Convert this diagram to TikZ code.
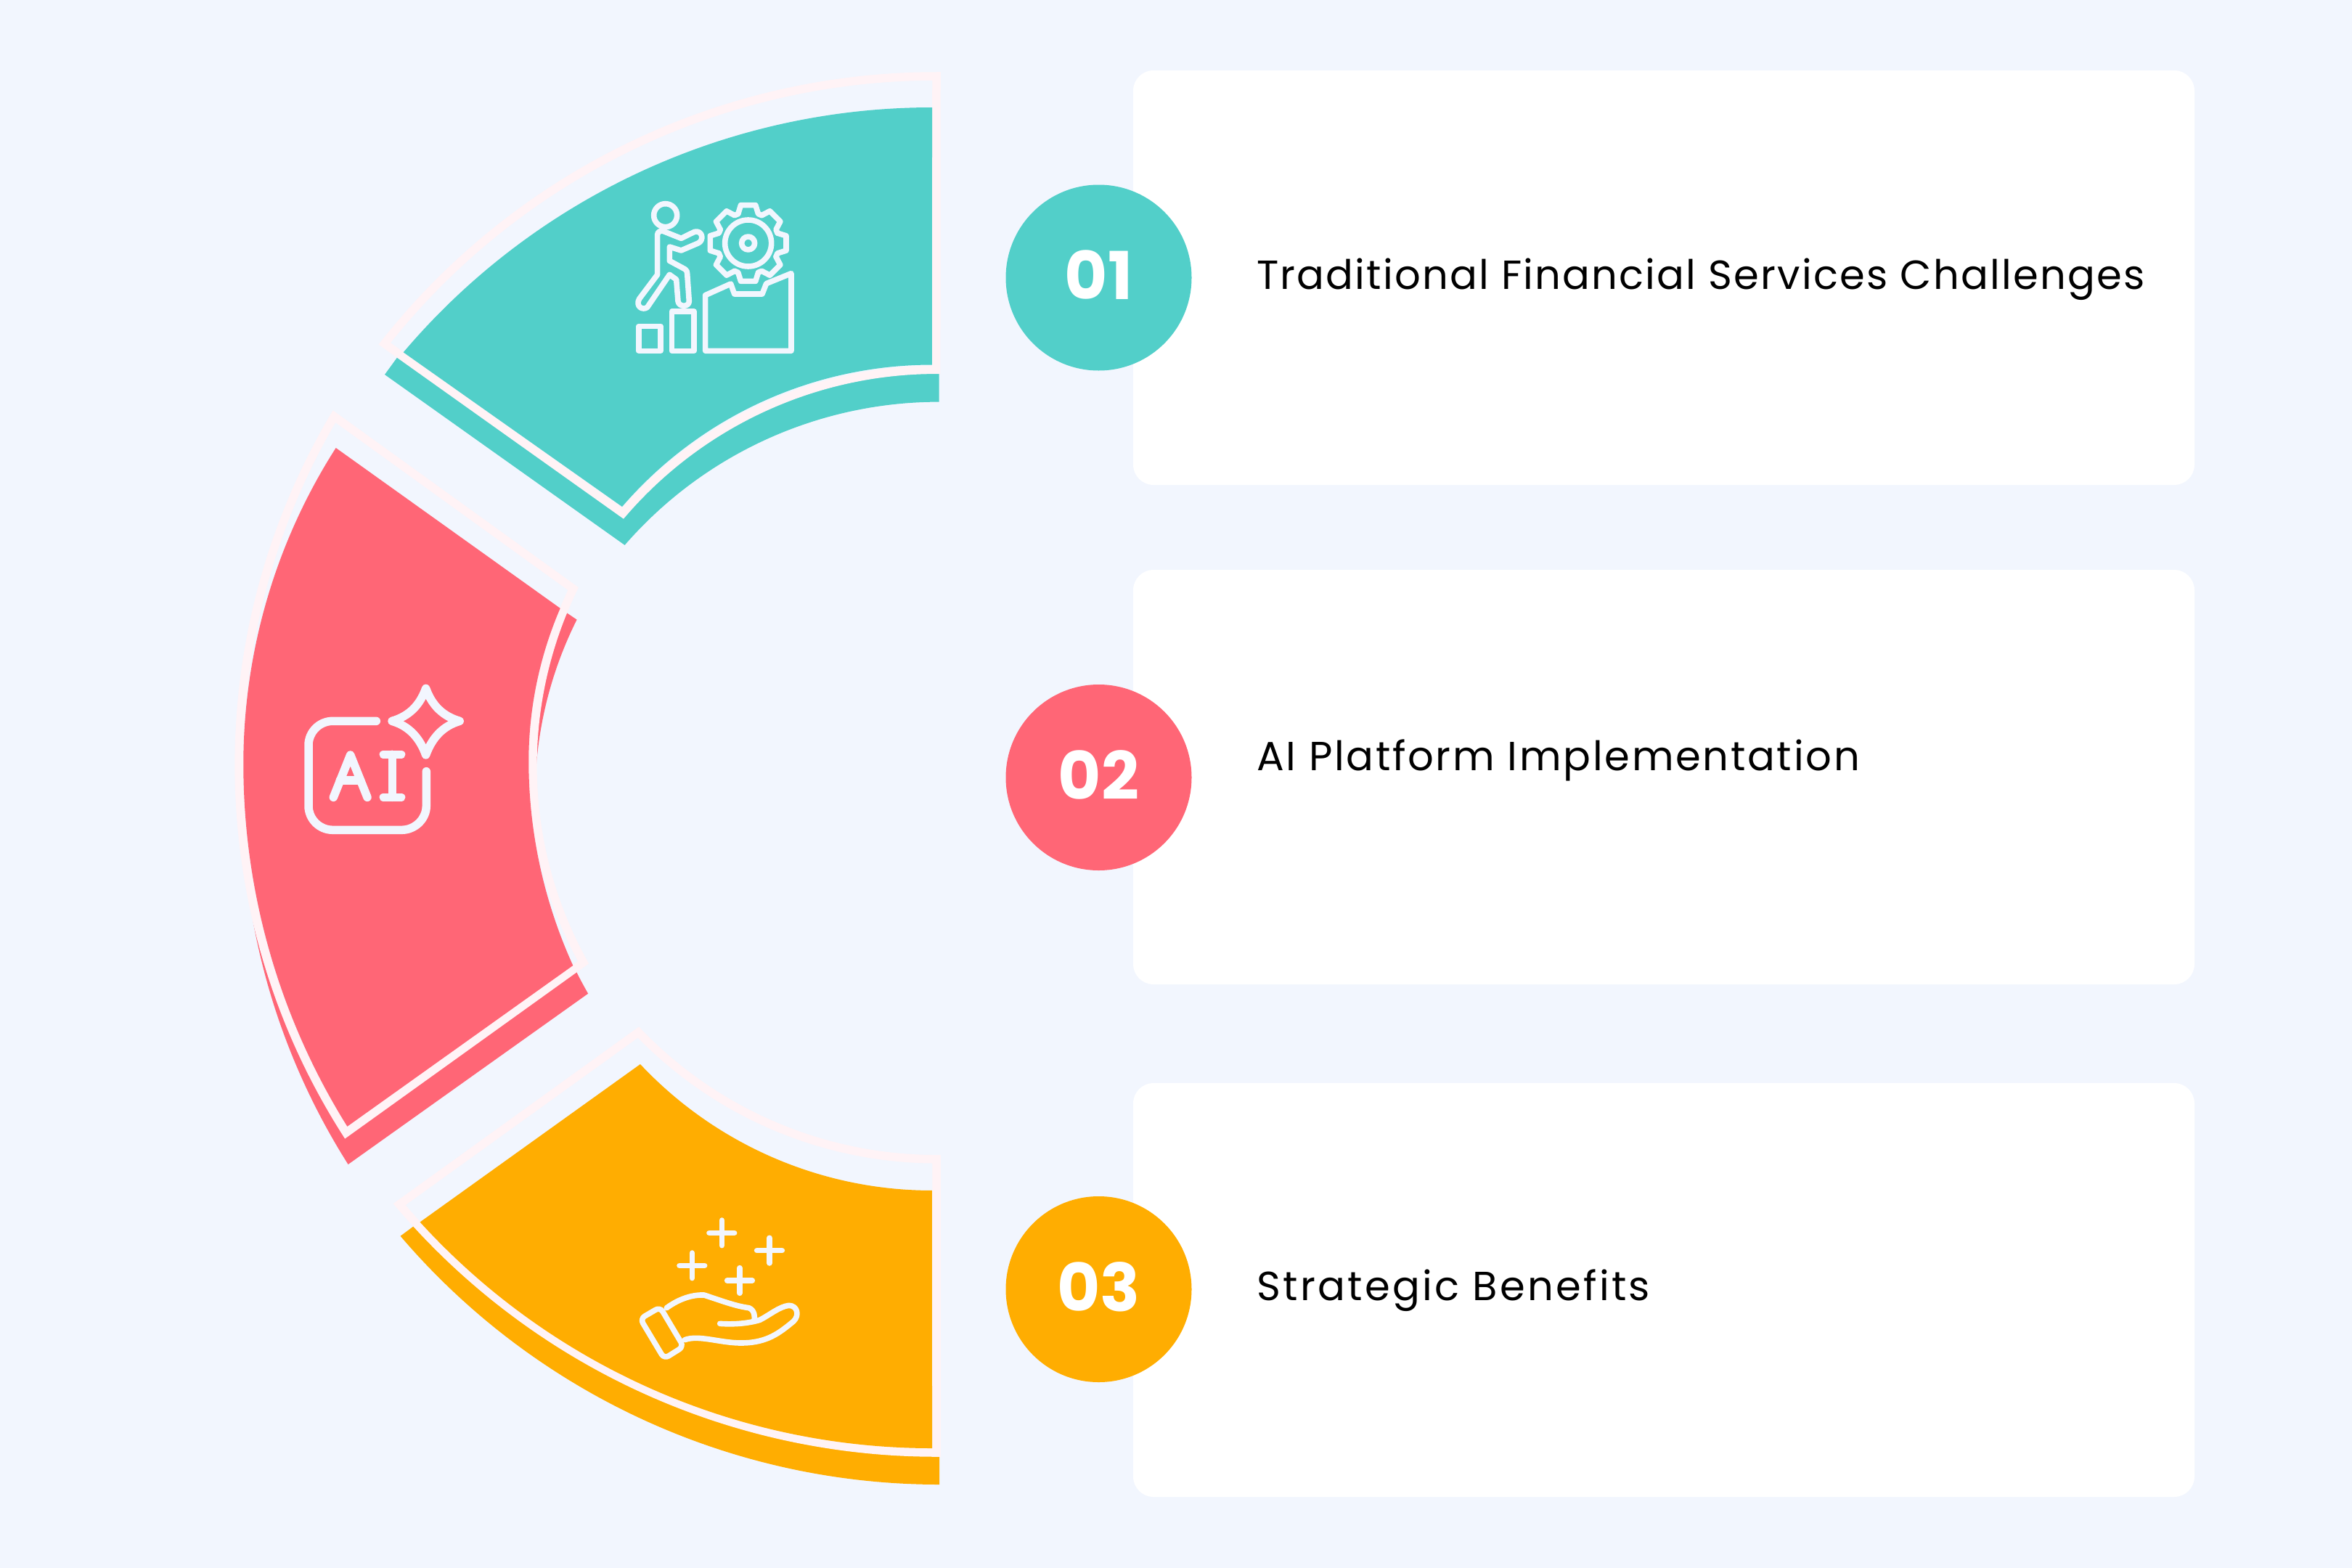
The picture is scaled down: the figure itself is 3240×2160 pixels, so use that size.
\documentclass[tikz,border=0pt]{standalone}
\usepackage{fontspec}
\setmainfont{Poppins}
\definecolor{bgc}{HTML}{F2F6FE}
\definecolor{pinkc}{HTML}{FFF3F6}
\definecolor{tealc}{HTML}{52CFC9}
\definecolor{redc}{HTML}{FF6676}
\definecolor{orac}{HTML}{FFAD01}
\tikzset{
  frame/.style={fill=bgc,draw=pinkc,line width=11.5pt,miter limit=10},
  card/.style={fill=white,draw=none,rounded corners=28pt},
  badge/.style={circle,minimum size=256pt,inner sep=0pt,text=white,font=\fontsize{91}{91}\selectfont\bfseries},
  label/.style={anchor=base west,inner sep=0pt,text=black,font=\fontsize{56}{60}\selectfont},
  ico/.style={draw=bgc,line width=7.6pt,line join=round,line cap=round},
  icob/.style={draw=bgc,line width=11.5pt,line join=round,line cap=round}
}
\begin{document}
\begin{tikzpicture}[x=1pt,y=1pt]
\useasboundingbox (0,0) rectangle (3240,-2160);
\fill[bgc] (0,0) rectangle (3240,-2160);
% cards
\draw[card] (1561,-97) rectangle (3023,-668);
\draw[card] (1561,-785) rectangle (3023,-1356);
\draw[card] (1561,-1492) rectangle (3023,-2062);
% teal
\fill[tealc] (1293.5,-553.6) arc[start angle=90,end angle=139,radius=573.6] -- (530,-516) -- (600,-420) -- (1293.5,-300) -- cycle;
\draw[frame] (1290,-105) arc[start angle=90,end angle=141.7,radius=968.8] -- (858,-707) arc[start angle=139.2,end angle=90,radius=570.3] -- cycle;
\fill[tealc] (1284,-148) arc[start angle=90,end angle=139.7,radius=955] -- (857,-698) arc[start angle=139.2,end angle=90,radius=564] -- cycle;
% red
\fill[redc] (794.6,-853.6) arc[start angle=153.4,end angle=210.06,radius=543] -- (479.6,-1604) arc[start angle=212.36,end angle=188,radius=943] -- (600,-1000) -- (700,-790) -- cycle;
\draw[frame] (460.4,-573.7) arc[start angle=149.4,end angle=212.5,radius=943] -- (803.6,-1325.7) arc[start angle=208.9,end angle=154.2,radius=560.3] -- cycle;
\fill[redc] (462.7,-617) arc[start angle=147.4,end angle=180,radius=808.5] arc[start angle=180,end angle=212,radius=942] -- (789.3,-1330) arc[start angle=204.46,end angle=180,radius=679.6] arc[start angle=180,end angle=156.7,radius=532.7] -- cycle;
% orange
\fill[orac] (1294,-2045) arc[start angle=270,end angle=220.5,radius=976.4] -- (620,-1652) -- (1294,-1800) -- cycle;
\draw[frame] (1290,-2001) arc[start angle=270,end angle=220.4,radius=971.6] -- (879.4,-1422) arc[start angle=223.9,end angle=270,radius=570] -- cycle;
\fill[orac] (1284,-1995) arc[start angle=270,end angle=222.35,radius=954.5] -- (882,-1466) arc[start angle=223.2,end angle=270,radius=551.4] -- cycle;
% badges
\node[badge,fill=tealc] (b1) at (1513.5,-382.5) {\raisebox{7pt}{01}};
\node[badge,fill=redc] (b2) at (1513.5,-1071) {\raisebox{7pt}{02}};
\node[badge,fill=orac] (b3) at (1513.5,-1776) {\raisebox{7pt}{03}};
% labels
\node[label] (t1) at (1731,-398) {\addfontfeature{LetterSpace=3.9}Traditional Financial Services Challenges};
\node[label] (t2) at (1731,-1061) {\addfontfeature{LetterSpace=4.8}AI Platform Implementation};
\node[label] (t3) at (1731,-1791) {\addfontfeature{LetterSpace=5.9}Strategic Benefits};
% icon 1
\begin{scope}[shift={(860,-260)},x=0.3333pt,y=-0.3333pt]
\draw[ico] (170,110) circle[radius=16pt];
\draw[ico] (160,175) -- (235,205) -- (290,178) .. controls (325,170) and (330,215) .. (305,225) -- (235,255) -- (187,240) -- (187,298) -- (250,332) .. controls (258,338) and (260,342) .. (260,350) -- (268,465) .. controls (268,490) and (225,490) .. (222,465) -- (215,375) -- (187,355) -- (95,490) .. controls (75,505) and (45,485) .. (62,455) -- (137,355) -- (137,190) .. controls (137,178) and (150,172) .. (160,175) -- cycle;
\draw[ico] (512,225) circle[radius=32pt];
\draw[ico] (512,225) circle[radius=9pt];
\begin{scope}[shift={(512,225)}]
\foreach \a in {0,45,...,315}{
  \draw[ico] (\a-19:128) -- (\a-11:160) -- (\a+11:160) -- (\a+19:128) -- (\a+26:128);
}
\end{scope}
\draw[ico] (335,670) -- (335,440) -- (440,393) -- (455,435) -- (570,435) -- (587,392) -- (690,350) -- (690,670) -- cycle;
\draw[ico] (60,568) rectangle (150,670);
\draw[ico] (197,507) rectangle (288,670);
\end{scope}
% icon 2
\begin{scope}[shift={(400,-920)},x=0.3333pt,y=-0.3333pt]
\draw[icob] (355,220) -- (175,220) .. controls (120,220) and (75,265) .. (75,320) -- (75,570) .. controls (75,625) and (120,670) .. (175,670) -- (460,670) .. controls (515,670) and (562,625) .. (562,570) -- (562,428);
\draw[icob] (178,535) -- (248,360) -- (318,535);
\draw[icob] (205,465) -- (290,465);
\draw[icob] (385,358) -- (458,358);
\draw[icob] (385,535) -- (458,535);
\draw[icob] (421,358) -- (421,535);
\draw[icob] (560,85) .. controls (585,155) and (630,200) .. (700,220) .. controls (630,240) and (585,290) .. (560,360) .. controls (535,290) and (490,240) .. (420,220) .. controls (490,200) and (535,155) .. (560,85) -- cycle;
\end{scope}
% icon 3
\begin{scope}[shift={(860,-1660)},x=0.3333pt,y=-0.3333pt]
\foreach \cx/\cy in {403/115,600/188,280/250,477/312}{
  \draw[ico] (\cx-52,\cy) -- (\cx+52,\cy);
  \draw[ico] (\cx,\cy-52) -- (\cx,\cy+52);
}
\draw[ico,rounded corners=7pt] (66,470) -- (148,422) -- (245,585) -- (165,635) -- cycle;
\draw[ico] (175,425) .. controls (230,385) and (285,370) .. (330,372) .. controls (400,395) and (460,418) .. (515,425) .. controls (540,435) and (540,465) .. (537,478);
\draw[ico] (395,490) .. controls (450,494) and (510,490) .. (560,475) .. controls (600,455) and (640,420) .. (680,415) .. controls (715,415) and (725,455) .. (700,480) .. controls (640,530) and (590,568) .. (490,570) .. controls (400,572) and (310,535) .. (250,557);
\end{scope}
\end{tikzpicture}
\end{document}
